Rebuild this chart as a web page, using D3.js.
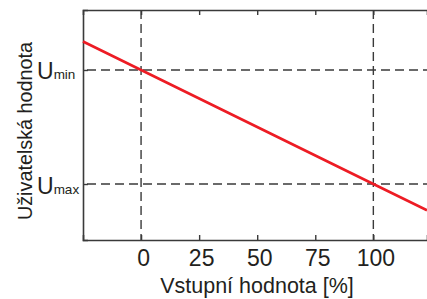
<!DOCTYPE html>
<html><head><meta charset="utf-8">
<script src="https://cdn.jsdelivr.net/npm/d3@7"></script>
<style>body{margin:0;background:#fff}svg{display:block}text{font-family:"Liberation Sans",Arial,sans-serif;fill:#231f20}</style>
</head><body><svg id="c" width="427" height="299"></svg>
<script>
const xTicks = [0, 25, 50, 75, 100];
const xTickLabels = ["0", "25", "50", "75", "100"];
const yTickValues = [1, 0];
const yTickMain = ["U", "U"];
const yTickSub = ["min", "max"];
const lineX = [-25, 0, 100, 123.1];
const lineY = [1.25, 1, 0, -0.23];
const xDomain = [-25, 123.1];
const yDomain = [-0.491, 1.526];
const xLabel = "Vstupní hodnota [%]";
const yLabel = "Uživatelská hodnota";

const svg = d3.select("#c");
const L = 83, R = 427, T = 10, B = 240;
const x = d3.scaleLinear().domain(xDomain).range([L, R]);
const y = d3.scaleLinear().domain(yDomain).range([B, T]);
const ink = "#3a3a3a";

// dashed reference lines
const g = svg.append("g");
[0, 100].forEach(v => g.append("line").attr("x1", x(v)).attr("x2", x(v)).attr("y1", T).attr("y2", B)
  .attr("stroke", ink).attr("stroke-width", 1.4).attr("stroke-dasharray", "9,5"));
yTickValues.forEach(v => g.append("line").attr("x1", L).attr("x2", R).attr("y1", y(v)).attr("y2", y(v))
  .attr("stroke", ink).attr("stroke-width", 1.4).attr("stroke-dasharray", "9,5").attr("stroke-dashoffset", -4));

// axes
const xb = d3.axisBottom(x).tickValues(xTicks).tickFormat((d,i)=>xTickLabels[i]).tickSize(-5);
const ax = svg.append("g").attr("transform", `translate(0,${B})`).call(xb);
ax.select(".domain").attr("stroke", ink).attr("stroke-width", 1.6);
ax.selectAll(".tick line").attr("stroke", ink).attr("stroke-width", 1.4);
ax.selectAll(".tick text").attr("font-size", 23).attr("fill", "#231f20")
  .attr("font-family", "Liberation Sans, Arial, sans-serif").attr("y", 26).attr("dy", 0).attr("x", 2);

const xt = d3.axisTop(x).tickValues(xTicks).tickFormat("").tickSize(-5);
const axt = svg.append("g").attr("transform", `translate(0,${T})`).call(xt);
axt.select(".domain").attr("stroke", ink).attr("stroke-width", 1.6);
axt.selectAll(".tick line").attr("stroke", ink).attr("stroke-width", 1.4);

const yl = d3.axisLeft(y).tickValues(yTickValues).tickFormat("").tickSize(-5);
const ay = svg.append("g").attr("transform", `translate(${L},0)`).call(yl);
ay.select(".domain").attr("stroke", ink).attr("stroke-width", 1.6);
ay.selectAll(".tick line").attr("stroke", ink).attr("stroke-width", 1.4);

// y tick labels with subscripts
yTickValues.forEach((v, i) => {
  const t = svg.append("text").attr("x", 37).attr("y", y(v) + 9.5).attr("text-anchor", "start");
  t.append("tspan").attr("font-size", 23).text(yTickMain[i]);
  t.append("tspan").attr("font-size", 13.5).text(yTickSub[i]);
});

// red line
const pts = lineX.map((d, i) => [d, lineY[i]]);
svg.append("path").datum(pts).attr("fill", "none").attr("stroke", "#ed1c24").attr("stroke-width", 2.6)
  .attr("d", d3.line().x(d => x(d[0])).y(d => y(d[1])));

// axis titles
svg.append("text").attr("x", 257).attr("y", 293).attr("text-anchor", "middle").attr("font-size", 21.5).text(xLabel);
svg.append("text").attr("transform", `translate(32,131) rotate(-90)`).attr("text-anchor", "middle").attr("font-size", 19.8).text(yLabel);
</script></body></html>
